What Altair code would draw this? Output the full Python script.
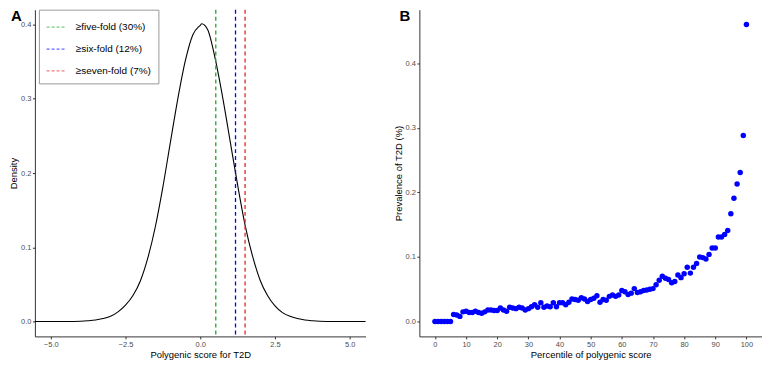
import altair as alt
import pandas as pd

# ---- Panel A: density of polygenic score ----
dens_x = [-5.53, -4.5, -4.0, -3.75, -3.5, -3.25, -3.0, -2.75, -2.5, -2.25, -2.0, -1.75,
          -1.5, -1.25, -1.0, -0.75, -0.5, -0.25, 0.0, 0.05, 0.25, 0.5, 0.75, 1.0, 1.25,
          1.5, 1.75, 2.0, 2.25, 2.5, 2.75, 3.0, 3.25, 3.5, 3.75, 4.0, 4.5, 5.53]
dens_y = [0.0, 0.0001, 0.0004, 0.001, 0.002, 0.004, 0.007, 0.013, 0.022, 0.035, 0.055, 0.086,
          0.128, 0.181, 0.241, 0.300, 0.351, 0.386, 0.399, 0.401, 0.393, 0.354, 0.302, 0.243, 0.184,
          0.130, 0.088, 0.056, 0.035, 0.021, 0.012, 0.007, 0.004, 0.002, 0.001, 0.0004, 0.0001, 0.0]

thr_labels = ["≥five-fold (30%)", "≥six-fold (12%)", "≥seven-fold (7%)"]
thr_x = [0.52, 1.18, 1.50]
thr_colors = ["#22a822", "#0000ff", "#e02828"]

# ---- Panel B: prevalence by percentile ----
pct = list(range(0, 101))
prev = [0.0, 0.0, 0.0, 0.0, 0.0, 0.0, 0.011, 0.010, 0.008, 0.015,
        0.016, 0.014, 0.014, 0.016, 0.014, 0.013, 0.015, 0.018, 0.018, 0.017,
        0.017, 0.021, 0.018, 0.016, 0.022, 0.021, 0.020, 0.022, 0.021, 0.018,
        0.020, 0.023, 0.026, 0.022, 0.029, 0.022, 0.024, 0.023, 0.029, 0.023,
        0.029, 0.029, 0.026, 0.030, 0.035, 0.034, 0.033, 0.037, 0.035, 0.031,
        0.034, 0.036, 0.040, 0.030, 0.034, 0.033, 0.039, 0.041, 0.039, 0.041,
        0.048, 0.046, 0.042, 0.044, 0.051, 0.045, 0.046, 0.048, 0.049, 0.050,
        0.051, 0.057, 0.064, 0.070, 0.067, 0.065, 0.060, 0.062, 0.072, 0.068,
        0.074, 0.084, 0.075, 0.084, 0.090, 0.100, 0.099, 0.097, 0.104, 0.114,
        0.114, 0.131, 0.131, 0.135, 0.141, 0.167, 0.191, 0.213, 0.231, 0.288,
        0.460]

FONT = "Liberation Sans"

dens_df = pd.DataFrame({"x": dens_x, "y": dens_y})
thr_df = pd.DataFrame({"label": thr_labels, "x": thr_x})
prev_df = pd.DataFrame({"pct": pct, "prev": prev})

xA = alt.X("x:Q", title="Polygenic score for T2D",
           scale=alt.Scale(domain=[-5.53, 5.53], nice=False, zero=False),
           axis=alt.Axis(values=[-5, -2.5, 0, 2.5, 5], format=".1f"))
yA = alt.Y("y:Q", title="Density",
           scale=alt.Scale(domain=[-0.02, 0.42], nice=False, zero=False),
           axis=alt.Axis(values=[0, 0.1, 0.2, 0.3, 0.4], format=".1f"))

dens_line = alt.Chart(dens_df).mark_line(color="black", strokeWidth=1.1,
                                         interpolate="monotone").encode(x=xA, y=yA)

thr_rules = alt.Chart(thr_df).mark_rule(strokeDash=[4, 3], strokeWidth=1.3).encode(
    x=alt.X("x:Q"),
    color=alt.Color("label:N", sort=thr_labels,
                    scale=alt.Scale(domain=thr_labels, range=thr_colors),
                    legend=alt.Legend(title=None, orient="none", legendX=4, legendY=0,
                                      symbolType="stroke", symbolSize=380,
                                      symbolStrokeWidth=1.2, symbolDash=[3, 2],
                                      symbolOpacity=0.6,
                                      labelFontSize=10, labelFont=FONT, labelColor="black",
                                      labelOffset=9, rowPadding=6, padding=7,
                                      strokeColor="#999999", fillColor="white")),
)

labA = alt.Chart(pd.DataFrame({"t": ["A"]})).mark_text(
    font=FONT, fontSize=15, fontWeight="bold", align="left", baseline="top", color="black"
).encode(text="t:N", x=alt.value(-24), y=alt.value(-1))

panelA = alt.layer(dens_line, thr_rules, labA).properties(width=332, height=328)

xB = alt.X("pct:Q", title="Percentile of polygenic score",
           scale=alt.Scale(domain=[-5, 105], nice=False, zero=False),
           axis=alt.Axis(values=list(range(0, 101, 10))))
yB = alt.Y("prev:Q", title="Prevalence of T2D (%)",
           scale=alt.Scale(domain=[-0.023, 0.483], nice=False, zero=False),
           axis=alt.Axis(values=[0, 0.1, 0.2, 0.3, 0.4], format=".1f"))

pts = alt.Chart(prev_df).mark_circle(color="#0000ff", size=30, opacity=1).encode(x=xB, y=yB)

labB = alt.Chart(pd.DataFrame({"t": ["B"]})).mark_text(
    font=FONT, fontSize=15, fontWeight="bold", align="left", baseline="top", color="black"
).encode(text="t:N", x=alt.value(-20), y=alt.value(-1))

panelB = alt.layer(pts, labB).properties(width=344, height=328)

chart = alt.hconcat(panelA, panelB, spacing=24).properties(
    padding={"left": 0, "top": 0, "right": 0, "bottom": 0}
).configure_view(stroke=None).configure_axis(
    grid=False,
    labelFont=FONT, labelFontSize=7.5, labelColor="#4d4d4d", labelPadding=1.5,
    titleFont=FONT, titleFontSize=9.5, titleFontWeight="normal", titleColor="black",
    titlePadding=2, tickSize=2.5, tickColor="#333333", domainColor="#333333",
    domainWidth=1,
)

chart.save("out.html", embed_options={"renderer": "svg", "actions": False})
